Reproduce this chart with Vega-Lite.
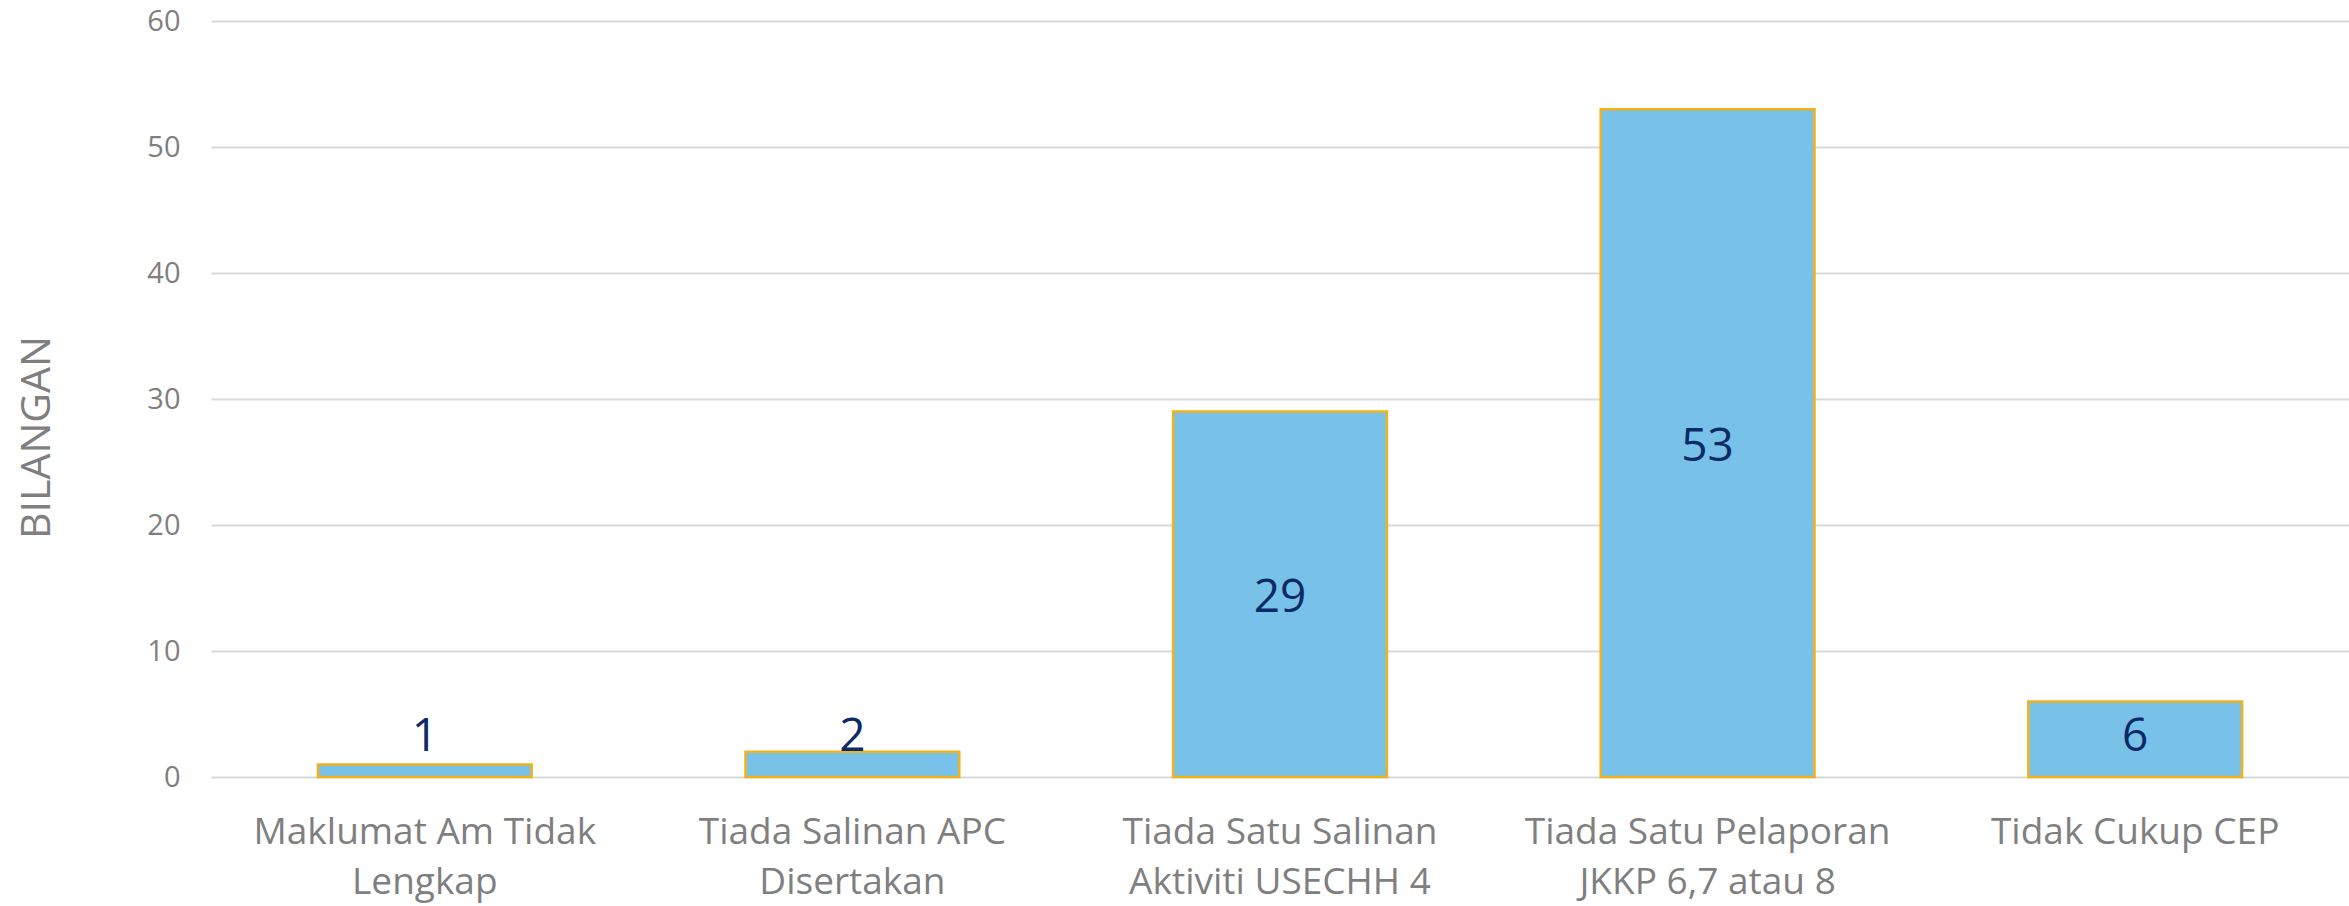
{
  "$schema": "https://vega.github.io/schema/vega-lite/v6.json",
  "autosize": {"type": "none"},
  "padding": {"left": 211, "top": 21, "right": 0, "bottom": 129},
  "width": 2138,
  "height": 756,
  "background": "white",
  "config": {"view": {"stroke": null}, "font": "Open Sans"},
  "data": {
    "values": [
      {"kategori": "Maklumat Am Tidak\nLengkap", "bilangan": 1},
      {"kategori": "Tiada Salinan APC\nDisertakan", "bilangan": 2},
      {"kategori": "Tiada Satu Salinan\nAktiviti USECHH 4", "bilangan": 29},
      {"kategori": "Tiada Satu Pelaporan\nJKKP 6,7 atau 8", "bilangan": 53},
      {"kategori": "Tidak Cukup CEP", "bilangan": 6}
    ]
  },
  "encoding": {
    "x": {
      "field": "kategori",
      "type": "nominal",
      "sort": null,
      "scale": {"paddingInner": 0.5, "paddingOuter": 0.25},
      "axis": {
        "title": null,
        "labelAngle": 0,
        "labelExpr": "split(datum.label, '\\n')",
        "labelFont": "Open Sans",
        "labelFontSize": 37,
        "labelColor": "#7f7f7f",
        "labelLineHeight": 50,
        "labelBaseline": "top",
        "labelPadding": 37,
        "labelLimit": 0,
        "labelOverlap": false,
        "ticks": false,
        "domain": false,
        "grid": false
      }
    }
  },
  "layer": [
    {
      "mark": {"type": "bar", "fill": "#78c1e8", "stroke": "#f2b21e", "strokeWidth": 2.5},
      "encoding": {
        "y": {
          "field": "bilangan",
          "type": "quantitative",
          "scale": {"domain": [0, 60], "nice": false},
          "axis": {
            "title": "BILANGAN",
            "titleFont": "Open Sans",
            "titleFontSize": 41,
            "titleFontWeight": "normal",
            "titleColor": "#7f7f7f",
            "titleAngle": 270,
            "titleAlign": "center",
            "titleBaseline": "alphabetic",
            "titleX": -162,
            "titleY": 416,
            "values": [0, 10, 20, 30, 40, 50, 60],
            "labelFont": "Open Sans",
            "labelFontSize": 29,
            "labelColor": "#7f7f7f",
            "labelPadding": 31,
            "ticks": false,
            "domain": false,
            "grid": true,
            "gridColor": "#d9d9d9",
            "gridWidth": 2
          }
        }
      }
    },
    {
      "transform": [{"calculate": "max(datum.bilangan / 2, 3.5)", "as": "posisi"}],
      "mark": {"type": "text", "font": "Open Sans", "fontSize": 46, "color": "#0b2a66", "baseline": "middle", "align": "center", "dy": 4},
      "encoding": {
        "y": {"field": "posisi", "type": "quantitative"},
        "text": {"field": "bilangan", "type": "quantitative"}
      }
    }
  ]
}
